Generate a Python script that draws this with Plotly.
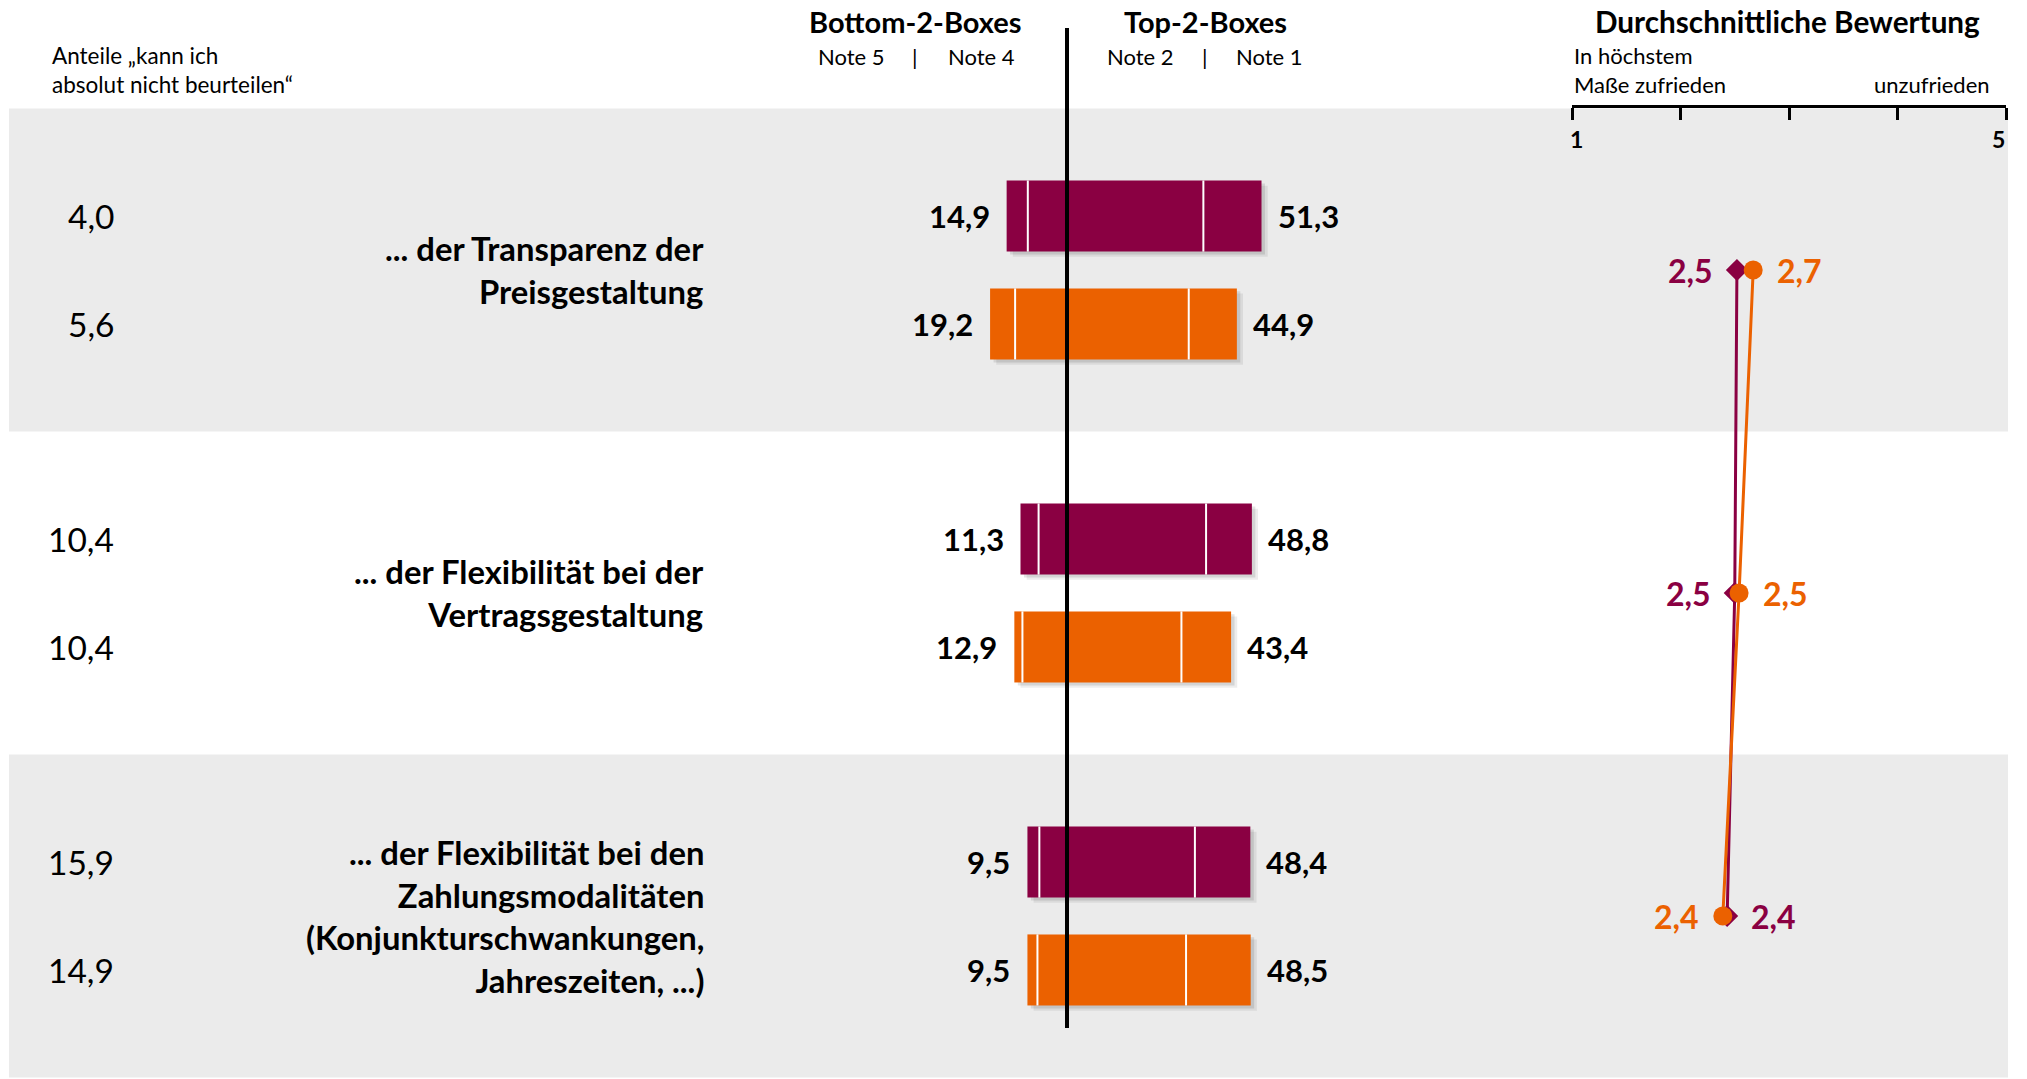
import plotly.graph_objects as go

# ---------------- data ----------------
categories = [
    "... der Transparenz der<br>Preisgestaltung",
    "... der Flexibilität bei der<br>Vertragsgestaltung",
    "... der Flexibilität bei den<br>Zahlungsmodalitäten<br>(Konjunkturschwankungen,<br>Jahreszeiten, ...)",
]
colors = ["#8A0042", "#EB6100"]  # series A (purple), series B (orange)

# Bottom-2-Boxes (Note 5 | Note 4) and Top-2-Boxes (Note 2 | Note 1), in %
note5_a = [5.5, 4.7, 3.1]
note4_a = [9.4, 6.6, 6.4]
note2_a = [36.2, 36.9, 34.0]
note1_a = [15.1, 11.9, 14.4]

note5_b = [6.5, 2.1, 2.6]
note4_b = [12.7, 10.8, 6.9]
note2_b = [32.4, 30.5, 31.7]
note1_b = [12.5, 12.9, 16.8]

# Anteile "kann ich absolut nicht beurteilen"
kann_nicht_a = [4.0, 10.4, 15.9]
kann_nicht_b = [5.6, 10.4, 14.9]

# Durchschnittliche Bewertung (1 = in höchstem Maße zufrieden ... 5 = unzufrieden)
rating_a = [2.52, 2.50, 2.43]
rating_b = [2.67, 2.54, 2.39]
rating_tickvals = [1, 2, 3, 4, 5]
rating_ticktext = ["1", "", "", "", "5"]


def fmt(v):
    return f"{v:.1f}".replace(".", ",")


# ---------------- layout helpers ----------------
W, H = 2027, 1079
FONT = "Lato"
BAR_W = 0.22
OFF = 0.167
groups = list(range(len(categories)))

fig = go.Figure()

series = [
    (note5_a, note4_a, note2_a, note1_a, kann_nicht_a, rating_a, -OFF, colors[0]),
    (note5_b, note4_b, note2_b, note1_b, kann_nicht_b, rating_b, +OFF, colors[1]),
]

# shadows
for n5, n4, n2, n1, kn, rt, off, col in series:
    ys = [g + off for g in groups]
    bottom = [a + b for a, b in zip(n5, n4)]
    top = [a + b for a, b in zip(n2, n1)]
    for dx, dy, alpha in [(1.6, 0.016, 0.07), (0.9, 0.009, 0.10)]:
        fig.add_trace(go.Bar(
            y=ys, x=[b + t for b, t in zip(bottom, top)], base=[-b + dx for b in bottom],
            orientation="h", width=BAR_W, offset=-BAR_W / 2 + dy,
            marker=dict(color=f"rgba(0,0,0,{alpha})", line=dict(width=0)),
            xaxis="x", yaxis="y", hoverinfo="skip", showlegend=False))

# bars
for n5, n4, n2, n1, kn, rt, off, col in series:
    ys = [g + off for g in groups]
    segs = [
        ([-(a + b) for a, b in zip(n5, n4)], n5),
        ([-b for b in n4], n4),
        ([0] * len(n2), n2),
        (n2, n1),
    ]
    for base, length in segs:
        fig.add_trace(go.Bar(
            y=ys, x=length, base=base, orientation="h", width=BAR_W,
            marker=dict(color=col, line=dict(width=0)),
            xaxis="x", yaxis="y", hoverinfo="skip", showlegend=False))
    # white separators between the notes
    sx, sy = [], []
    for i, y in enumerate(ys):
        for xv in (-n4[i], n2[i]):
            sx += [xv, xv, None]
            sy += [y - BAR_W / 2, y + BAR_W / 2, None]
    fig.add_trace(go.Scatter(x=sx, y=sy, mode="lines", line=dict(color="white", width=2),
                             xaxis="x", yaxis="y", hoverinfo="skip", showlegend=False))

# rating lines (purple first, orange on top)
for idx, (n5, n4, n2, n1, kn, rt, off, col) in enumerate(series):
    fig.add_trace(go.Scatter(
        x=rt, y=groups, mode="lines+markers",
        line=dict(color=col, width=3),
        marker=dict(symbol="diamond" if idx == 0 else "circle", size=17 if idx == 0 else 19,
                    color=col, line=dict(width=0)),
        xaxis="x2", yaxis="y", hoverinfo="skip", showlegend=False, cliponaxis=False))

annotations = []


def ann(text, x, y, xref="paper", yref="paper", xanchor="center", yanchor="middle",
        size=21, color="black", bold=False, align="center", xshift=0):
    annotations.append(dict(
        text=text, x=x, y=y, xref=xref, yref=yref, xanchor=xanchor, yanchor=yanchor,
        showarrow=False, align=align, xshift=xshift,
        font=dict(family=FONT, size=size, color=color, weight="bold" if bold else "normal")))


def px(p):
    return p / W


def py(p):
    return 1 - p / H


# headers
ann("Anteile „kann ich<br>absolut nicht beurteilen“", px(50), py(70), xanchor="left", align="left", size=22.5)
ann("Bottom-2-Boxes", px(915), py(22), size=29, bold=True)
ann("Top-2-Boxes", px(1205), py(22), size=29, bold=True)
ann("Note 5", px(851), py(56), size=22)
ann("|", px(915), py(56), size=22)
ann("Note 4", px(981), py(56), size=22)
ann("Note 2", px(1140), py(56), size=22)
ann("|", px(1205), py(56), size=22)
ann("Note 1", px(1269), py(56), size=22)
ann("Durchschnittliche Bewertung", px(1787), py(22), size=29.7, bold=True)
ann("In höchstem<br>Maße zufrieden", px(1572), py(70), xanchor="left", align="left", size=22)
ann("unzufrieden", px(1992), py(84), xanchor="right", size=22)

# rating scale end labels: "1" starts at its tick, "5" ends at its tick
for tv, tt in zip(rating_tickvals, rating_ticktext):
    if tt:
        ann(tt, tv, py(139), xref="x2", xanchor="left" if tv == rating_tickvals[0] else "right",
            size=23, bold=True, xshift=-4 if tv == rating_tickvals[0] else 1)

# categories, values
for i, g in enumerate(groups):
    ann(categories[i], px(706), g, yref="y", xanchor="right", align="right", size=32.8, bold=True)
    for n5, n4, n2, n1, kn, rt, off, col in series:
        y = g + off
        ann(fmt(kn[i]), px(116), y, yref="y", xanchor="right", size=33.5)
        ann(fmt(n5[i] + n4[i]), -(n5[i] + n4[i]), y, xref="x", yref="y", xanchor="right",
            size=31, bold=True, xshift=-15)
        ann(fmt(n2[i] + n1[i]), n2[i] + n1[i], y, xref="x", yref="y", xanchor="left",
            size=31, bold=True, xshift=14)
    # rating labels: lower value on the left
    ra, rb = rating_a[i], rating_b[i]
    left_first = ra <= rb
    for idx, (rv, col) in enumerate([(ra, colors[0]), (rb, colors[1])]):
        on_left = (idx == 0) == left_first
        ann(fmt(rv), rv, g, xref="x2", yref="y", xanchor="right" if on_left else "left",
            size=32, bold=True, color=col, xshift=-22 if on_left else 22)

shapes = []
# gray bands
for g in (0, 2):
    shapes.append(dict(type="rect", xref="paper", yref="y", x0=px(9), x1=px(2008),
                       y0=g - 0.5, y1=g + 0.5, fillcolor="#EBEBEB", line=dict(width=0), layer="below"))
# center divider line
shapes.append(dict(type="line", xref="paper", yref="paper", x0=px(1067), x1=px(1067),
                   y0=py(28), y1=py(1028), line=dict(color="black", width=4), layer="above"))

Z = 1064
K = 3.85
fig.update_layout(
    height=H, autosize=True,
    margin=dict(l=0, r=0, t=0, b=0, pad=0),
    paper_bgcolor="white", plot_bgcolor="rgba(0,0,0,0)",
    barmode="overlay", showlegend=False,
    font=dict(family=FONT),
    xaxis=dict(domain=[0, 1], range=[-Z / K, (W - Z) / K], visible=False, fixedrange=True,
               automargin=False),
    yaxis=dict(domain=[0, 1], range=[(H - 270) / 323, -270 / 323], visible=False, fixedrange=True,
               automargin=False),
    xaxis2=dict(domain=[px(1572), px(2006)], range=[1, 5], anchor="free", position=py(105.5),
                side="bottom", showline=True, linecolor="black", linewidth=3,
                ticks="outside", ticklen=12, tickwidth=3, tickcolor="black",
                tickvals=rating_tickvals, showticklabels=False,
                showgrid=False, zeroline=False, fixedrange=True, automargin=False),
    annotations=annotations,
    shapes=shapes,
)

fig.write_html(
    "out.html",
    config={"displayModeBar": False},
    default_width="100%",
    default_height="1079px",
    post_script=(
        "document.documentElement.style.margin='0';"
        "document.body.style.margin='0';"
        "document.body.style.overflow='hidden';"
        "Plotly.Plots.resize(document.getElementById('{plot_id}'));"
    ),
)
